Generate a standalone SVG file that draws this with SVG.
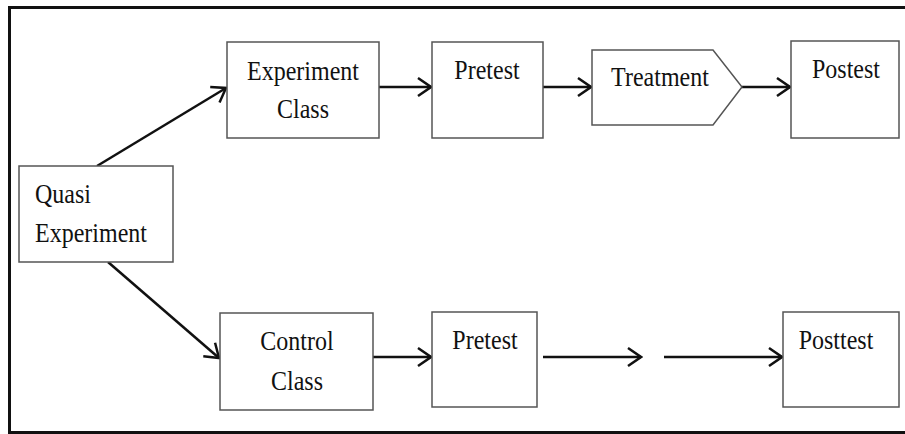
<svg xmlns="http://www.w3.org/2000/svg" width="905" height="434" viewBox="0 0 905 434">
<defs>
<style>
.box{fill:#fff;stroke:#555;stroke-width:1.5}
.t{font-family:"Liberation Serif","Times New Roman",serif;font-size:24px;fill:#111;text-anchor:middle}
.tl{text-anchor:start}
.c{fill:none;stroke:#111;stroke-width:2.5}
</style>
<marker id="ah" viewBox="-15 -11 17 22" refX="0" refY="0" markerWidth="17" markerHeight="22" markerUnits="userSpaceOnUse" orient="auto">
<path d="M-13,-9 L0,0 L-13,9" fill="none" stroke="#111" stroke-width="2.5"/>
</marker>
</defs>
<rect x="0" y="0" width="905" height="434" fill="#fff"/>
<rect x="9.5" y="7.5" width="920" height="425" fill="none" stroke="#111" stroke-width="3"/>
<g id="connectors">
<line class="c" x1="97" y1="166" x2="226" y2="88" marker-end="url(#ah)"/>
<line class="c" x1="108" y1="262" x2="219" y2="358" marker-end="url(#ah)"/>
<line class="c" x1="379" y1="87" x2="431" y2="87" marker-end="url(#ah)"/>
<line class="c" x1="543" y1="87" x2="591" y2="87" marker-end="url(#ah)"/>
<line class="c" x1="742" y1="87" x2="790" y2="87" marker-end="url(#ah)"/>
<line class="c" x1="373" y1="357" x2="431" y2="357" marker-end="url(#ah)"/>
<line class="c" x1="543" y1="357" x2="641" y2="357" marker-end="url(#ah)"/>
<line class="c" x1="664" y1="357" x2="782" y2="357" marker-end="url(#ah)"/>
</g>
<g id="quasi">
<rect class="box" x="19" y="166" width="154" height="96"/>
<text class="t tl" transform="translate(35,203) scale(1,1.15)">Quasi</text>
<text class="t tl" transform="translate(35,242) scale(1,1.15)">Experiment</text>
</g>
<g id="expClass">
<rect class="box" x="227" y="42" width="152" height="96"/>
<text class="t" transform="translate(303,80) scale(1,1.15)">Experiment</text>
<text class="t" transform="translate(303,118) scale(1,1.15)">Class</text>
</g>
<g id="pretest1">
<rect class="box" x="432" y="42" width="111" height="96"/>
<text class="t" transform="translate(487,79) scale(1,1.15)">Pretest</text>
</g>
<g id="treatment">
<path class="box" d="M592,50 L713,50 L742,87 L713,125 L592,125 Z"/>
<text class="t" transform="translate(660,86) scale(1,1.15)">Treatment</text>
</g>
<g id="postest">
<rect class="box" x="791" y="41" width="108" height="97"/>
<text class="t" transform="translate(846,78) scale(1,1.15)">Postest</text>
</g>
<g id="controlClass">
<rect class="box" x="220" y="313" width="153" height="97"/>
<text class="t" transform="translate(297,350) scale(1,1.15)">Control</text>
<text class="t" transform="translate(297,390) scale(1,1.15)">Class</text>
</g>
<g id="pretest2">
<rect class="box" x="432" y="312" width="105" height="95"/>
<text class="t" transform="translate(485,349) scale(1,1.15)">Pretest</text>
</g>
<g id="posttest">
<rect class="box" x="783" y="312" width="116" height="95"/>
<text class="t" transform="translate(836,349) scale(1,1.15)">Posttest</text>
</g>
</svg>
